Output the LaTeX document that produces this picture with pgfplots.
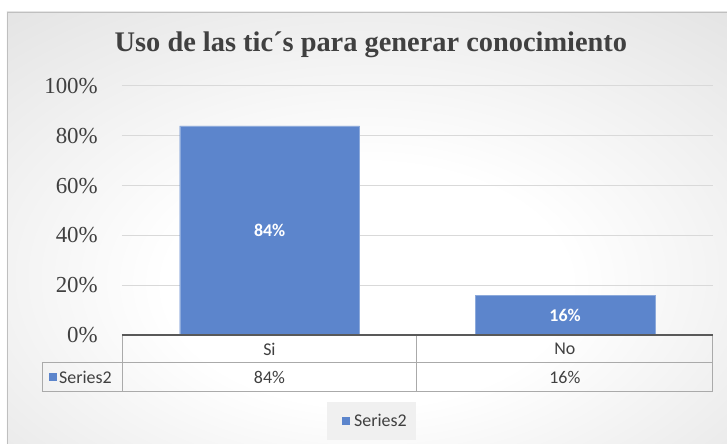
\documentclass[border=0pt]{standalone}
\usepackage{pgfplots}
\pgfplotsset{compat=1.18}
\usepackage{fontspec}
\setmainfont{Liberation Serif}
\newfontfamily\calib{Carlito}
\definecolor{barblue}{RGB}{92,133,204}
\definecolor{gridc}{RGB}{217,217,217}
\definecolor{txt}{RGB}{64,64,64}
\definecolor{tbl}{RGB}{170,170,170}
\pgfdeclareradialshading{bgshade}{\pgfpoint{0bp}{-8bp}}{color(0bp)=(white); color(14bp)=(white); color(58bp)=(black!19); color(80bp)=(black!23)}
\begin{document}
\begin{tikzpicture}[x=1bp,y=1bp]
\fill[white] (0,0) rectangle (727,444);
\shade[shading=bgshade] (7,0) rectangle (727,432);
\draw[black!25] (7.5,0) -- (7.5,431.5) -- (727,431.5);
\node[font=\bfseries\fontsize{28.5}{33}\selectfont, text=txt] at (371,399) {Uso de las tic´s para generar conocimiento};
\begin{axis}[at={(122bp,109bp)}, anchor=south west, width=591bp, height=249bp, scale only axis,
  xmin=-0.5, xmax=1.5, ymin=0, ymax=100,
  ytick={0,20,40,60,80,100}, yticklabels={0\%,20\%,40\%,60\%,80\%,100\%},
  xtick=\empty, ymajorgrids, grid style={gridc, line width=1bp},
  axis line style={draw=none}, major tick length=0pt,
  yticklabel style={font=\fontsize{23}{27}\selectfont, text=txt, anchor=east, inner sep=0pt, xshift=-24bp},
  clip=false]
\addplot[ybar, bar width=180bp, fill=barblue, draw=barblue!70!white] coordinates {(0,84) (1,16)};
\addplot[draw=none, mark=none, nodes near coords, point meta=explicit symbolic,
  nodes near coords style={anchor=center, font=\calib\bfseries\fontsize{18}{21}\selectfont, text=white}]
  coordinates {(0,42) [84\%] (1,8) [16\%]};
\end{axis}
% axis base line
\draw[black!65, line width=1.5bp] (122,109) -- (713,109);
% data table
\draw[tbl, line width=0.8bp] (42,81) -- (713,81);
\draw[tbl, line width=0.8bp] (42,52) -- (713,52);
\draw[tbl, line width=0.8bp] (42,81) -- (42,52);
\draw[tbl, line width=0.8bp] (122,108) -- (122,52);
\draw[tbl, line width=0.8bp] (417,108) -- (417,52);
\draw[tbl, line width=0.8bp] (713,108) -- (713,52);
\begin{scope}[every node/.style={font=\calib\fontsize{18}{21}\selectfont, text=txt}]
\node at (269.5,95) {Si};
\node at (565,95) {No};
\node at (269.5,66.5) {84\%};
\node at (565,66.5) {16\%};
\fill[barblue] (49,62.5) rectangle (57,70.5);
\node[anchor=west, inner sep=0pt] at (59,66.5) {Series2};
% legend
\fill[black!6] (327,4) rectangle (416,42);
\fill[barblue] (342,19) rectangle (350,27);
\node[anchor=west, inner sep=0pt] at (354,23) {Series2};
\end{scope}
\end{tikzpicture}
\end{document}
